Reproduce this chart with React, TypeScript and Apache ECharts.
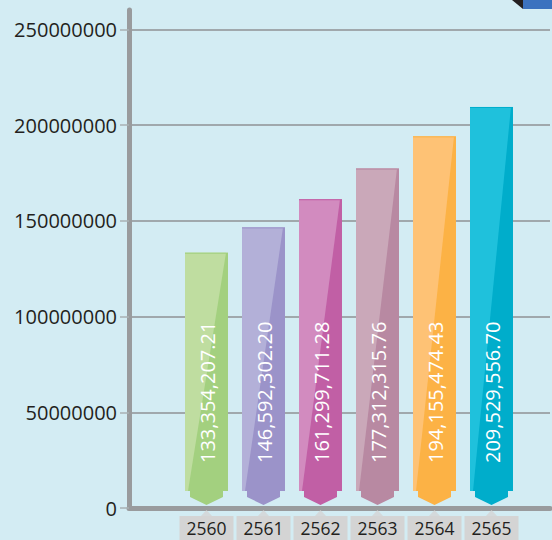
import React, { useEffect, useRef } from "react";
import * as echarts from "echarts";

const years = ["2560", "2561", "2562", "2563", "2564", "2565"];
const values = [133354207.21, 146592302.2, 161299711.28, 177312315.76, 194155474.43, 209529556.7];
const yTicks = [0, 50000000, 100000000, 150000000, 200000000, 250000000];

const lightColors = ["#bfdda0", "#b3b0d8", "#d28bbf", "#caa8b9", "#fec275", "#1fc1dc"];
const darkColors = ["#a3d07f", "#9b93c9", "#c15fa5", "#b889a2", "#fcb245", "#00adcb"];

const fmt = (v: number) =>
  v.toLocaleString("en-US", { minimumFractionDigits: 2, maximumFractionDigits: 2 });

export default function App() {
  const ref = useRef<HTMLDivElement>(null);
  useEffect(() => {
    if (!ref.current) return;
    const chart = echarts.init(ref.current, null, { renderer: "svg" });
    const yMax = yTicks[yTicks.length - 1];
    const yStep = yTicks[1] - yTicks[0];
    const option: any = {
      animation: false,
      backgroundColor: "#d3ecf3",
      grid: [
        { left: 129, right: 2, top: 10, bottom: 32, outerBoundsMode: "none", containLabel: false },
        { left: 129, right: 2, top: 29.5, bottom: 32, outerBoundsMode: "none", containLabel: false },
        { left: 178, right: 32, top: 29.5, bottom: 32, outerBoundsMode: "none", containLabel: false },
      ],
      xAxis: [
        {
          gridIndex: 0, type: "value", min: 0, max: 1,
          axisLine: { show: true, lineStyle: { color: "#999b9d", width: 5, cap: "round" } },
          axisTick: { show: false }, axisLabel: { show: false }, splitLine: { show: false },
        },
        {
          gridIndex: 1, type: "value", min: 0, max: 1, show: false,
        },
        {
          gridIndex: 2, type: "category", data: years,
          axisLine: { show: false }, axisTick: { show: false },
          axisLabel: {
            margin: 8,
            color: "#231f20",
            fontFamily: "Open Sans",
            fontSize: 17.5,
            lineHeight: 18,
            backgroundColor: "#d4d4d4",
            padding: [3, 7, 3, 7],
          },
        },
      ],
      yAxis: [
        {
          gridIndex: 0, type: "value", min: 0, max: 1,
          axisLine: { show: true, lineStyle: { color: "#999b9d", width: 5, cap: "round" } },
          axisTick: { show: false }, axisLabel: { show: false }, splitLine: { show: false },
        },
        {
          gridIndex: 1, type: "value", min: 0, max: yMax, interval: yStep,
          axisLine: { show: false },
          axisTick: { show: true, length: 9, lineStyle: { color: "#a9b0b3", width: 1.5 } },
          axisLabel: {
            margin: 12, color: "#231f20", fontFamily: "Open Sans", fontSize: 20,
            formatter: (v: number) => String(v),
          },
          splitLine: { show: true, lineStyle: { color: "#a0a8ac", width: 2 } },
        },
        {
          gridIndex: 2, type: "value", min: 0, max: yMax, interval: yStep, show: false,
        },
      ],
      series: [
        {
          type: "scatter",
          xAxisIndex: 2, yAxisIndex: 2,
          symbol: "triangle",
          symbolSize: [11, 6],
          symbolOffset: [0, 5],
          clip: false,
          z: 1,
          itemStyle: { color: "#d4d4d4" },
          data: years.map((_, i) => [i, 0]),
        },
        {
          type: "custom",
          xAxisIndex: 2, yAxisIndex: 2,
          clip: false,
          z: 3,
          data: values.map((v, i) => [i, v]),
          renderItem: (params: any, api: any) => {
            const idx = api.value(0);
            const val = api.value(1);
            const top = api.coord([idx, val]);
            const base = api.coord([idx, 0]);
            const bw = api.size([1, 0])[0] * 0.754;
            const cx = top[0];
            const l = cx - bw / 2;
            const r = cx + bw / 2;
            const ty = top[1];
            const zy = base[1];
            const b1 = zy - 17;
            const b2 = zy - 11;
            const tip = zy - 3;
            const ins = 5;
            const dark = darkColors[idx];
            const light = lightColors[idx];
            return {
              type: "group",
              children: [
                {
                  type: "polygon",
                  shape: {
                    points: [
                      [l, ty], [r, ty], [r, b1], [r - ins, b1], [r - ins, b2],
                      [cx, tip], [l + ins, b2], [l + ins, b1], [l, b1],
                    ],
                  },
                  style: { fill: dark },
                },
                {
                  type: "polygon",
                  shape: { points: [[l, ty], [r - 2, ty], [l + 3, b1], [l, b1]] },
                  style: { fill: light },
                },
                {
                  type: "line",
                  shape: { x1: l, y1: ty + 0.5, x2: r, y2: ty + 0.5 },
                  style: { stroke: dark, lineWidth: 1 },
                },
                {
                  type: "text",
                  x: cx + 1,
                  y: zy - 45,
                  rotation: Math.PI / 2,
                  style: {
                    text: fmt(val),
                    fill: "#ffffff",
                    font: '20px "Open Sans"',
                    textAlign: "left",
                    textVerticalAlign: "middle",
                  },
                },
              ],
            };
          },
        },
      ],
      graphic: [
        { type: "rect", shape: { x: 523, y: 0, width: 29, height: 9 }, style: { fill: "#3b72bf" } },
        { type: "polygon", shape: { points: [[512, 0], [523, 0], [523, 9]] }, style: { fill: "#231f20" } },
      ],
    };
    chart.setOption(option);
    return () => chart.dispose();
  }, []);
  return (
    <div
      ref={ref}
      style={{ position: "fixed", left: 0, top: 0, width: 552, height: 540 }}
    />
  );
}
